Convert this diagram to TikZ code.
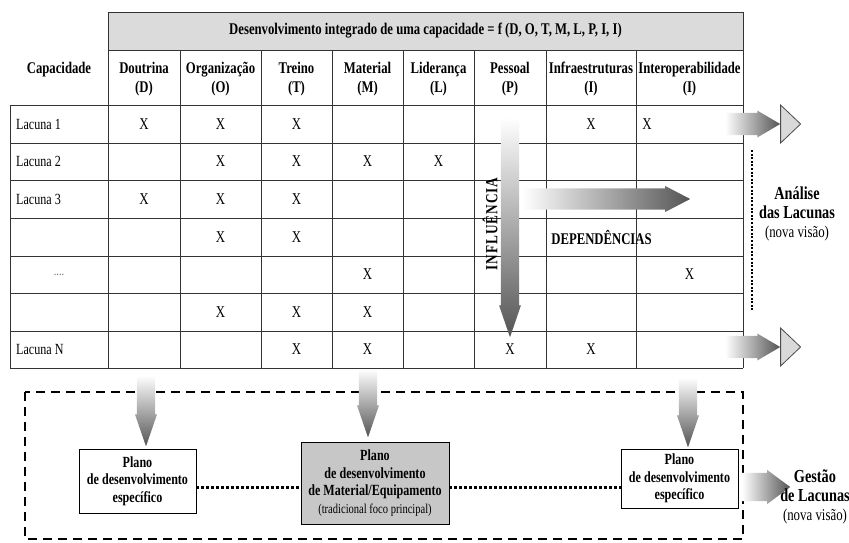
\documentclass[tikz,border=0pt]{standalone}
\usepackage{fontspec}
\setmainfont{Liberation Serif}[FakeStretch=0.78]
\newfontfamily\spacedfont{Liberation Serif}[FakeStretch=0.78,LetterSpace=6]
\usetikzlibrary{positioning,shapes.arrows}

\definecolor{headgray}{gray}{0.86}
\definecolor{boxgray}{gray}{0.78}
\definecolor{arrowdark}{gray}{0.33}
\newcommand{\sidenotefont}{\fontsize{16.5}{19}\selectfont\mdseries}

\begin{document}
\begin{tikzpicture}[
        x=1pt, y=-1pt, % pixel-like coordinates, y downwards
        every node/.style={inner sep=0pt, align=center},
        colhead/.style={font=\fontsize{16.3}{19.5}\selectfont\bfseries},
        rowlabel/.style={font=\fontsize{15.5}{17}\selectfont, anchor=west},
        xmark/.style={font=\fontsize{16.5}{18}\selectfont},
        gridline/.style={line width=0.9pt, draw=black!80},
        planbox/.style={draw, line width=0.9pt, minimum width=117pt, minimum height=64pt, font=\fontsize{15.5}{17.5}\selectfont\bfseries},
        sidelabel/.style={font=\fontsize{18.3}{19}\selectfont\bfseries},
        arrowbase/.style={single arrow, draw=none, inner ysep=4.5pt, inner xsep=0pt, single arrow head extend=1pt},
        hgradarrow/.style={arrowbase, left color=white, right color=arrowdark},
        vgradarrow/.style={arrowbase, rotate=-90, top color=white, bottom color=arrowdark},
        opentip/.style={draw=black!70, fill=black!15, line width=0.8pt},
        boxlink/.style={line width=3pt, dash pattern=on 3pt off 2pt}
    ]
    \useasboundingbox (0,0) rectangle (849,542);

    % Table frame
    \draw[gridline, fill=headgray] (108,12) rectangle (743,50);
    \foreach \xc in {108,180,261,332,403,474,546,636,743}
        \draw[gridline] (\xc,50) -- (\xc,368);
    \draw[gridline] (10,105) -- (10,368);
    \foreach \yr in {105,143,180,218,256,293,331,368}
        \draw[gridline] (10,\yr) -- (743,\yr);

    % Headings
    \node[colhead] (title) at (425.5,31) {Desenvolvimento integrado de uma capacidade = f (D, O, T, M, L, P, I, I)};
    \node[colhead] (capac) at (59,70) {Capacidade};
    \foreach \xc/\nm/\txt in {144/Dou/{Doutrina\\(D)}, 220.5/Org/{Organização\\(O)}, 296.5/Tre/{Treino\\(T)},
            367.5/Mat/{Material\\(M)}, 438.5/Lid/{Liderança\\(L)}, 510/Pes/{Pessoal\\(P)},
            591/Inf/{Infraestruturas\\(I)}, 689.5/Int/{Interoperabilidade\\(I)}}
        \node[colhead] (h\nm) at (\xc,79) {\txt};

    % Lacunas
    \node[rowlabel] (lac1) at (16,124) {Lacuna 1};
    \node[rowlabel] (lac2) at (16,161.5) {Lacuna 2};
    \node[rowlabel] (lac3) at (16,199) {Lacuna 3};
    \node[font=\fontsize{13}{14}\selectfont, text=black!60] (lacdots) at (59,274.5) {....};
    \node[rowlabel] (lacN) at (16,349.5) {Lacuna N};

    % X marks
    \foreach \xc/\yr [count=\k] in {144/124, 220.5/124, 296.5/124, 591/124, 647/124,
            220.5/161.5, 296.5/161.5, 367.5/161.5, 438.5/161.5,
            144/199, 220.5/199, 296.5/199,
            220.5/237, 296.5/237,
            367.5/274.5, 689.5/274.5,
            220.5/312, 296.5/312, 367.5/312,
            296.5/349.5, 367.5/349.5, 510/349.5, 591/349.5}
        \node[xmark] (x\k) at (\xc,\yr) {X};

    % Influencia / dependencias
    \node[vgradarrow, anchor=tail, minimum height=220pt, minimum width=22pt, single arrow tip angle=38] (infl) at (510,117) {};
    \node[font=\spacedfont\fontsize{17}{18}\selectfont\bfseries, rotate=90] (infltxt) at (490,224) {INFLUÊNCIA};
    \node[hgradarrow, anchor=tail, minimum height=168pt, minimum width=26pt, single arrow tip angle=55] (dep) at (522,199) {};
    \node[colhead] (deptxt) at (601.5,237) {DEPENDÊNCIAS};

    % Analise das lacunas
    \node[hgradarrow, anchor=tail, minimum height=55pt, minimum width=27pt, single arrow tip angle=61] (gap1) at (725,124) {};
    \draw[opentip] (gap1.tip) -- ++(0,-19) -- ++(20,19) -- ++(-20,19) -- cycle;
    \node[hgradarrow, anchor=tail, minimum height=55pt, minimum width=27pt, single arrow tip angle=61] (gapN) at (725,347) {};
    \draw[opentip] (gapN.tip) -- ++(0,-19) -- ++(20,19) -- ++(-20,19) -- cycle;
    \coordinate (sepT) at (752,150);
    \coordinate (sepB) at (752,310);
    \draw[line width=2pt, dash pattern=on 2pt off 1.6pt] (sepT) -- (sepB);
    \node[sidelabel] (anal) at (797,214) {Análise\\das Lacunas\\{\sidenotefont(nova visão)}};

    % Gestao de lacunas
    \draw[line width=2.5pt, dash pattern=on 9pt off 6pt] (25,392) rectangle (743,539);
    \node[planbox] (planL) at (137.5,481) {Plano\\de desenvolvimento\\específico};
    \node[planbox, fill=boxgray, minimum width=148pt, minimum height=82pt] (planM) at (375,483)
        {Plano\\de desenvolvimento\\de Material/Equipamento\\{\fontsize{13.5}{15}\selectfont\mdseries(tradicional foco principal)}};
    \node[planbox, minimum height=59pt] (planR) at (679.5,478.5) {Plano\\de desenvolvimento\\específico};
    \draw[boxlink] ([yshift=-6pt]planL.east) -- ([yshift=-6pt]planL.east -| planM.west);
    \draw[boxlink] ([yshift=-6pt]planL.east -| planM.east) -- ([yshift=-6pt]planL.east -| planR.west);

    \node[vgradarrow, anchor=tip, minimum height=71pt, minimum width=22pt, single arrow tip angle=38] (downL) at (146,447) {};
    \node[vgradarrow, anchor=tip, minimum height=68pt, minimum width=22pt, single arrow tip angle=38] (downM) at (368,438) {};
    \node[vgradarrow, anchor=tip, minimum height=70pt, minimum width=22pt, single arrow tip angle=38] (downR) at (688,448) {};

    \node[hgradarrow, anchor=tail, minimum height=48pt, minimum width=34pt, single arrow tip angle=73] (gest) at (742,487) {};
    \node[sidelabel] (gesttxt) at (815,497) {Gestão\\de Lacunas\\{\sidenotefont(nova visão)}};
\end{tikzpicture}
\end{document}
